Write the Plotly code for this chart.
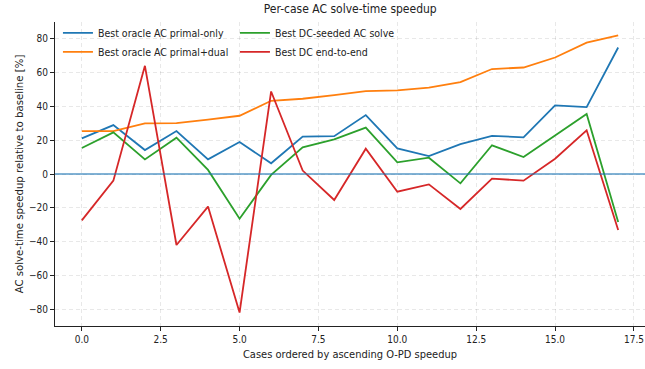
import plotly.graph_objects as go

# Per-case speedups (%) for 18 cases, ordered by ascending O-PD speedup
cases = list(range(18))
primal_only = [21.0, 28.8, 14.1, 25.3, 8.6, 18.8, 6.3, 22.0, 22.3, 34.7,
               15.1, 10.6, 17.6, 22.5, 21.6, 40.4, 39.4, 74.5]
primal_dual = [25.3, 25.3, 29.8, 30.0, 32.0, 34.3, 43.1, 44.3, 46.5, 48.8,
               49.2, 50.8, 54.1, 61.8, 62.7, 68.6, 77.3, 81.6]
dc_seeded = [15.3, 24.5, 8.6, 21.4, 2.4, -26.3, -0.5, 15.7, 20.4, 27.3,
             6.9, 9.6, -5.5, 16.9, 10.0, 22.9, 35.3, -28.2]
dc_end_to_end = [-27.3, -3.9, 63.7, -41.8, -19.2, -81.6, 48.6, 2.0, -15.3, 14.9,
                 -10.4, -6.1, -20.6, -2.7, -3.9, 9.0, 25.7, -33.0]

x_ticks = [0, 2.5, 5, 7.5, 10, 12.5, 15, 17.5]
y_ticks = [-80, -60, -40, -20, 0, 20, 40, 60, 80]

# (label, values, colour, legend column)
series = [
    ("Best oracle AC primal-only", primal_only, "#1f77b4", "legend"),
    ("Best oracle AC primal+dual", primal_dual, "#ff7f0e", "legend"),
    ("Best DC-seeded AC solve", dc_seeded, "#2ca02c", "legend2"),
    ("Best DC end-to-end", dc_end_to_end, "#d62728", "legend2"),
]

font = "DejaVu Sans Condensed"
fig = go.Figure()

for name, vals, color, leg in series:
    fig.add_trace(go.Scatter(
        x=cases, y=vals, mode="lines", name=name,
        line=dict(color=color, width=1.8), legend=leg,
    ))

# Baseline reference at zero
fig.add_hline(y=0, line=dict(color="rgba(31,119,180,0.75)", width=1.5))

axis_common = dict(
    showline=True, linecolor="#222", linewidth=1,
    ticks="outside", ticklen=4, tickcolor="#222",
    showgrid=True, gridcolor="rgba(0,0,0,0.09)", griddash="4px,3px", gridwidth=1,
    zeroline=False, tickfont=dict(family=font, size=10, color="#222"),
)

legend_common = dict(
    orientation="v", yanchor="top", xanchor="left", y=1.012,
    font=dict(family=font, size=10.5, color="#222"),
    bgcolor="rgba(255,255,255,0)", itemwidth=30, tracegroupgap=0,
)

fig.update_layout(
    width=645, height=369,
    margin=dict(l=55, r=0, t=22, b=43),
    paper_bgcolor="white", plot_bgcolor="white",
    font=dict(family=font, color="#222"),
    title=dict(text="Per-case AC solve-time speedup", x=0.543, xanchor="center",
               y=0.988, yanchor="top", font=dict(family=font, size=12, color="#222")),
    xaxis=dict(range=[-0.85, 17.85], tickvals=x_ticks, tickformat=".1f",
               title=dict(text="Cases ordered by ascending O-PD speedup",
                          font=dict(family=font, size=11), standoff=6),
               **axis_common),
    yaxis=dict(range=[-89.5, 89.5], tickvals=y_ticks,
               title=dict(text="AC solve-time speedup relative to baseline [%]",
                          font=dict(family=font, size=11.3), standoff=3),
               **axis_common),
    legend=dict(x=0.005, **legend_common),
    legend2=dict(x=0.305, **legend_common),
    showlegend=True,
)

fig.write_html("out.html")
